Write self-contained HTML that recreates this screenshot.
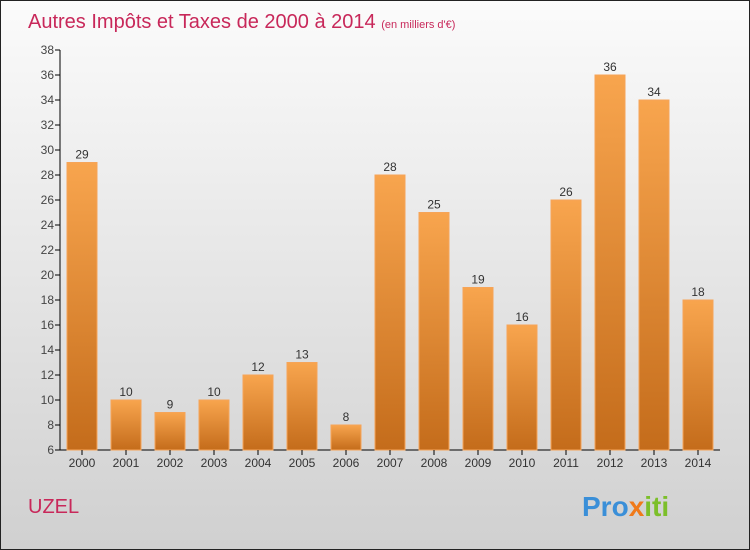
<!DOCTYPE html>
<html><head><meta charset="utf-8"><style>
body{margin:0}
svg{display:block;font-family:"Liberation Sans",sans-serif}
</style></head><body>
<svg id="c" width="750" height="550" xmlns="http://www.w3.org/2000/svg">
<defs>
<linearGradient id="bg" x1="0" y1="0" x2="0" y2="1"><stop offset="0" stop-color="#fbfbfb"/><stop offset="1" stop-color="#d0d0d0"/></linearGradient>
<linearGradient id="bar" x1="0" y1="0" x2="0" y2="1"><stop offset="0" stop-color="#f8a54e"/><stop offset="1" stop-color="#c46c1b"/></linearGradient>
</defs>
<rect x="0.5" y="0.5" width="749" height="549" fill="url(#bg)" stroke="#222"/>
<text x="28" y="28" font-size="20" fill="#c8285a">Autres Impôts et Taxes de 2000 à 2014 <tspan font-size="11">(en milliers d'€)</tspan></text>
<text x="28" y="513" font-size="20" fill="#c8285a">UZEL</text>
<text x="582" y="516" font-size="28" font-weight="bold"><tspan fill="#3a8fd8">Pro</tspan><tspan fill="#f07a1a">x</tspan><tspan fill="#7cbf2a">iti</tspan></text>
<g id="plot"></g>
</svg>
<script>
const years=["2000","2001","2002","2003","2004","2005","2006","2007","2008","2009","2010","2011","2012","2013","2014"];
const values=[29,10,9,10,12,13,8,28,25,19,16,26,36,34,18];
const ticks=[6,8,10,12,14,16,18,20,22,24,26,28,30,32,34,36,38];
const ns="http://www.w3.org/2000/svg";
const g=document.getElementById('plot');
const y=v=>450-(v-6)*12.5;
const x=i=>82+i*44;
function mk(t,a,p){const e=document.createElementNS(ns,t);for(const k in a)e.setAttribute(k,a[k]);(p||g).appendChild(e);return e;}
let ax=mk('line',{x1:60,y1:450,x2:60,y2:50,stroke:'#000'});


let bx=mk('line',{x1:60,y1:450,x2:720,y2:450,stroke:'#000'});


ticks.forEach(t=>{
  let l=mk('line',{x1:55,x2:60,y1:y(t),y2:y(t),stroke:'#000'});
  
  
  let tx=mk('text',{x:54,y:y(t)+4,'font-size':12,'text-anchor':'end',fill:'#444'});
  tx.textContent=t;
  
  
});
years.forEach((yr,i)=>{
  let r=mk('rect',{x:x(i)-15,y:y(values[i]),width:30,height:450-y(values[i]),fill:'url(#bar)',stroke:'#f6a458','stroke-width':1});
  
  
  let tk=mk('line',{x1:x(i),x2:x(i),y1:450,y2:455,stroke:'#000'});
  
  
  let xl=mk('text',{x:x(i),y:467,'font-size':12,'text-anchor':'middle',fill:'#333'});
  xl.textContent=yr;
  
  
  let vl=mk('text',{x:x(i),y:y(values[i])-4,'font-size':12,'text-anchor':'middle',fill:'#333'});
  vl.textContent=values[i];
  
  
});
</script>
</body></html>
